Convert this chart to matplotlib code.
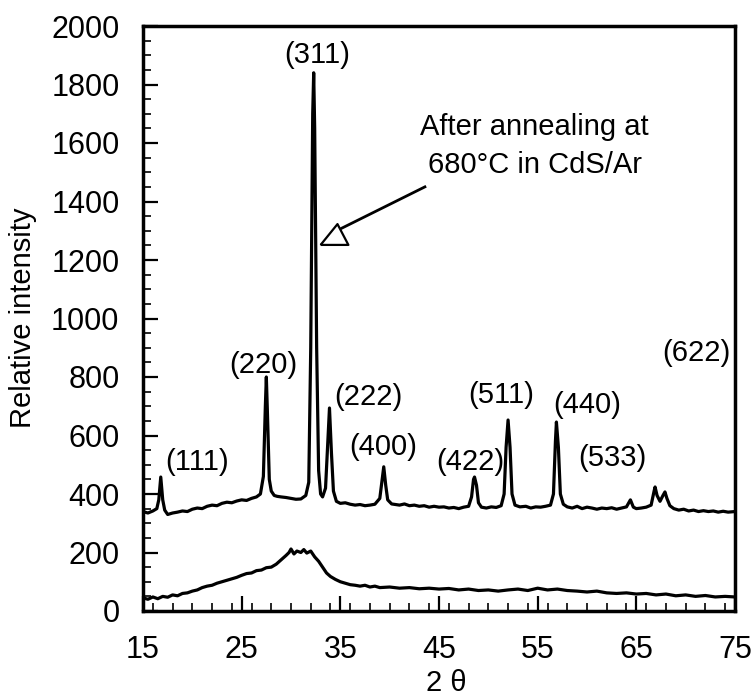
import matplotlib
matplotlib.use("Agg")
import matplotlib.pyplot as plt
from matplotlib.ticker import MultipleLocator

plt.rcParams['font.family'] = ['Liberation Sans', 'DejaVu Sans']

# After annealing (top curve)
top_x = [15, 15.5, 16, 16.4, 16.6, 16.8, 17.0, 17.2, 17.5, 18, 18.5, 19, 19.5, 20, 20.5, 21, 21.5, 22,
         22.5, 23, 23.5, 24, 24.5, 25, 25.5, 26, 26.5, 26.9, 27.2, 27.4, 27.5, 27.6, 27.8, 28.0, 28.3,
         28.6, 29, 29.5, 30, 30.5, 31, 31.5, 31.8, 32.0, 32.2, 32.3, 32.4, 32.6, 32.8, 33.0, 33.2, 33.5,
         33.7, 33.9, 34.1, 34.3, 34.6, 35, 35.5, 36, 36.5, 37, 37.5, 38, 38.5, 39.0, 39.2, 39.4, 39.6,
         39.8, 40.2, 41, 41.5, 42, 42.5, 43, 43.5, 44, 44.5, 45, 45.5, 46, 46.5, 47, 47.5, 48.0, 48.3,
         48.5, 48.6, 48.8, 49.0, 49.3, 49.8, 50.3, 50.8, 51.3, 51.6, 51.8, 52.0, 52.2, 52.4, 52.7, 53.2,
         53.8, 54.3, 54.8, 55.3, 55.8, 56.3, 56.6, 56.8, 56.9, 57.1, 57.3, 57.6, 58, 58.5, 59, 59.5, 60,
         60.5, 61, 61.5, 62, 62.5, 63, 63.5, 64.0, 64.4, 64.7, 65, 65.5, 66, 66.5, 66.8, 66.9, 67.1,
         67.4, 67.7, 67.9, 68.1, 68.4, 68.8, 69.3, 69.8, 70.3, 70.8, 71.3, 71.8, 72.3, 72.8, 73.3, 73.8,
         74.3, 75]
top_y = [340, 335, 342, 350, 380, 458, 380, 345, 330, 335, 338, 342, 340, 348, 352, 350, 358, 362,
         360, 368, 372, 370, 376, 380, 378, 385, 390, 400, 460, 700, 800, 690, 450, 410, 395,
         392, 390, 388, 385, 382, 383, 395, 440, 900, 1700, 1840, 1650, 900, 480, 400, 390, 420,
         560, 694, 540, 410, 375, 368, 370, 365, 362, 364, 360, 362, 365, 385, 440, 493, 430,
         380, 366, 362, 366, 360, 362, 358, 360, 355, 358, 355, 356, 352, 354, 350, 355, 358, 390,
         450, 458, 430, 370, 355, 352, 356, 354, 360, 400, 560, 653, 560, 400, 362, 356,
         358, 352, 356, 355, 358, 362, 400, 580, 646, 560, 400, 365, 356, 352, 358, 350, 355,
         352, 348, 352, 350, 353, 348, 352, 356, 380, 355, 350, 352, 355, 362, 410, 424, 395,
         375, 395, 407, 385, 360, 350, 345, 348, 342, 345, 340, 343, 340, 342, 338, 341,
         338, 340]

# As deposited (bottom curve)
bot_x = [15, 15.5, 16, 16.5, 17, 17.5, 18, 18.5, 19, 19.5, 20, 20.5, 21, 21.5, 22, 22.5, 23, 23.5,
         24, 24.5, 25, 25.5, 26, 26.5, 27, 27.5, 28, 28.5, 29, 29.5, 29.8, 30.0, 30.3, 30.6, 31, 31.3,
         31.6, 32, 32.4, 32.8, 33.2, 33.6, 34, 34.5, 35, 35.5, 36, 36.5, 37, 37.5, 38, 38.5, 39, 40,
         41, 42, 43, 44, 45, 46, 47, 48, 49, 50, 51, 52, 53, 54, 55, 56, 57, 58, 59, 60, 61, 62, 63,
         64, 65, 66, 67, 68, 69, 70, 71, 72, 73, 74, 75]
bot_y = [45, 40, 48, 42, 50, 47, 55, 52, 60, 62, 68, 72, 80, 85, 88, 95, 100, 105,
         110, 115, 122, 128, 130, 138, 140, 148, 150, 160, 175, 190, 200, 212, 195, 205, 200, 210,
         198, 205, 185, 170, 150, 130, 118, 108, 100, 95, 90, 88, 85, 88, 82, 85, 80, 82,
         78, 80, 76, 78, 75, 77, 72, 75, 70, 72, 68, 72, 75, 70, 78, 72, 75, 70, 68, 65, 68, 62, 60,
         62, 58, 60, 55, 58, 52, 55, 50, 53, 48, 50, 48]

peak_labels = ['(111)', '(220)', '(311)', '(222)', '(400)', '(422)', '(511)', '(440)', '(533)', '(622)']
label_x = [20.5, 27.2, 32.7, 37.8, 39.3, 48.2, 51.3, 60.0, 62.6, 71.1]
label_y = [509, 841, 1900, 732, 561, 509, 738, 704, 523, 882]

xticks = [15, 25, 35, 45, 55, 65, 75]
yticks = [0, 200, 400, 600, 800, 1000, 1200, 1400, 1600, 1800, 2000]

FS = 21

fig = plt.figure(figsize=(7.54, 7.0), dpi=100)
ax = fig.add_axes([143/754, 1 - 611/700, (735-143)/754, (611-26)/700])

ax.plot(top_x, top_y, color='black', lw=2.3, solid_joinstyle='round')
ax.plot(bot_x, bot_y, color='black', lw=2.3, solid_joinstyle='round')

ax.set_xlim(15, 75)
ax.set_ylim(0, 2000)
ax.set_xticks(xticks)
ax.set_yticks(yticks)
ax.xaxis.set_minor_locator(MultipleLocator(2))
ax.yaxis.set_minor_locator(MultipleLocator(50))
ax.tick_params(which='major', direction='in', length=11, width=1.6, labelsize=22)
ax.tick_params(which='minor', direction='in', length=6, width=1.2)
ax.tick_params(axis='x', which='major', pad=17)
ax.tick_params(axis='y', which='major', pad=17)
for s in ax.spines.values():
    s.set_linewidth(2.5)

fig.text(446/754, 1 - 683/700, '2 θ', fontsize=FS, ha='center', va='center')
fig.text(23/754, 1 - 318/700, 'Relative intensity', fontsize=FS, ha='center', va='center',
         rotation=90)

for t, x, y in zip(peak_labels, label_x, label_y):
    ax.text(x, y, t, fontsize=FS, ha='center', va='center')

ax.text(54.7, 1590, 'After annealing at\n680°C in CdS/Ar', fontsize=FS, ha='center', va='center',
        linespacing=1.45)
ax.plot([43.57, 35.16], [1450, 1309], color='black', lw=2.0)
tri = [(-14, -10.5), (14, -10.5), (3, 10.5), (-14, -10.5)]
ax.plot([34.35], [1290], marker=tri, markersize=20, markerfacecolor='white',
        markeredgecolor='black', markeredgewidth=1.6)

fig.savefig('out.png', dpi=100)
